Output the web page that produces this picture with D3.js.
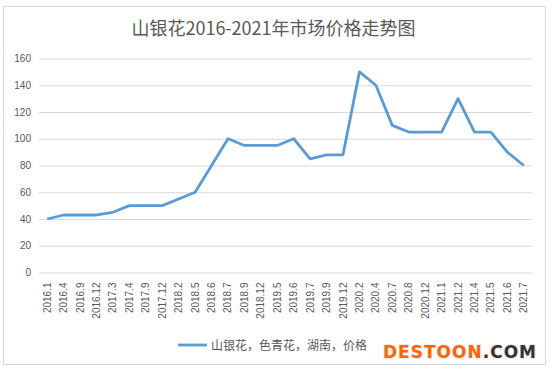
<!DOCTYPE html>
<html>
<head>
<meta charset="utf-8">
<script src="https://cdn.jsdelivr.net/npm/d3@7"></script>
<style>
  body { margin: 0; background: #fff; }
</style>
</head>
<body>
<div id="chart"></div>
<script>
const WIDTH = 555;
const HEIGHT = 373;

const MARGIN = { top: 58.5, bottom: 100.5, left: 39, right: 23 };

const months = ["2016.1", "2016.4", "2016.9", "2016.12", "2017.3", "2017.4", "2017.9", "2017.12",
    "2018.2", "2018.5", "2018.6", "2018.7", "2018.9", "2018.12", "2019.5", "2019.6", "2019.7",
    "2019.9", "2019.12", "2020.2", "2020.4", "2020.7", "2020.8", "2020.12", "2021.1", "2021.2",
    "2021.4", "2021.5", "2021.6", "2021.7"];
const prices = [40, 43, 43, 43, 45, 50, 50, 50, 55, 60, 80, 100, 95, 95, 95, 100, 85,
    88, 88, 150, 140, 110, 105, 105, 105, 130, 105, 105, 90, 80];
const yTicks = [0, 20, 40, 60, 80, 100, 120, 140, 160];
const seriesName = "山银花，色青花，湖南，价格";
const title = "山银花2016-2021年市场价格走势图";

const svg = d3.select("#chart").append("svg")
    .attr("width", WIDTH)
    .attr("height", HEIGHT);

// chart frame
svg.append("rect")
    .attr("x", 3.5).attr("y", 6.5)
    .attr("width", 542).attr("height", 358)
    .attr("fill", "#fff")
    .attr("stroke", "#d9d9d9");

const x = d3.scaleBand()
    .domain(months)
    .range([MARGIN.left, WIDTH - MARGIN.right]);

const y = d3.scaleLinear()
    .domain([0, 160])
    .range([HEIGHT - MARGIN.bottom, MARGIN.top]);

// y axis + grid
const yAxis = svg.append("g")
    .attr("transform", `translate(${MARGIN.left},0)`)
    .call(d3.axisLeft(y).tickValues(yTicks).tickSize(-(WIDTH - MARGIN.left - MARGIN.right)).tickPadding(8));
yAxis.select(".domain").remove();
yAxis.selectAll("line").attr("stroke", "#d9d9d9");
yAxis.selectAll("text")
    .attr("fill", "#595959")
    .attr("font-family", "Liberation Sans, Arial, sans-serif")
    .attr("font-size", 10);

// x axis labels
const xAxis = svg.append("g")
    .attr("transform", `translate(0,${HEIGHT - MARGIN.bottom})`)
    .call(d3.axisBottom(x).tickSize(0).tickPadding(0));
xAxis.select(".domain").remove();
xAxis.selectAll("text")
    .attr("fill", "#595959")
    .attr("font-family", "Liberation Sans, Arial, sans-serif")
    .attr("font-size", 10)
    .attr("text-anchor", "end")
    .attr("dy", "0.35em")
    .attr("transform", "translate(0,10) rotate(-90)")
    .attr("x", 0).attr("y", 0);

// line
const line = d3.line()
    .x((d, i) => x(months[i]) + x.bandwidth() / 2)
    .y(d => y(d));

svg.append("path")
    .datum(prices)
    .attr("fill", "none")
    .attr("stroke", "#5b9bd5")
    .attr("stroke-width", 2.8)
    .attr("stroke-linejoin", "round")
    .attr("d", line);

// title
svg.append("text")
    .text(title)
    .attr("x", 273.5)
    .attr("y", 35)
    .attr("text-anchor", "middle")
    .attr("font-family", "Noto Sans CJK SC, sans-serif")
    .attr("font-size", 18)
    .attr("fill", "#595959");

// legend
svg.append("line")
    .attr("x1", 178).attr("x2", 207)
    .attr("y1", 345).attr("y2", 345)
    .attr("stroke", "#5b9bd5")
    .attr("stroke-width", 2.8);
svg.append("text")
    .text(seriesName)
    .attr("x", 211)
    .attr("y", 349.5)
    .attr("font-family", "Noto Sans CJK SC, sans-serif")
    .attr("font-size", 12)
    .attr("fill", "#595959");

// watermark
const wm = svg.append("text")
    .attr("x", 383)
    .attr("y", 358)
    .attr("font-family", "DejaVu Sans, sans-serif")
    .attr("font-weight", "bold")
    .attr("font-size", 17)
    .attr("letter-spacing", 1)
    .style("paint-order", "stroke")
    .attr("stroke", "#eee")
    .attr("stroke-width", 2);
wm.append("tspan").attr("fill", "#ff6600").text("DESTOON");
wm.append("tspan").attr("fill", "#333").text(".COM");
</script>
</body>
</html>
